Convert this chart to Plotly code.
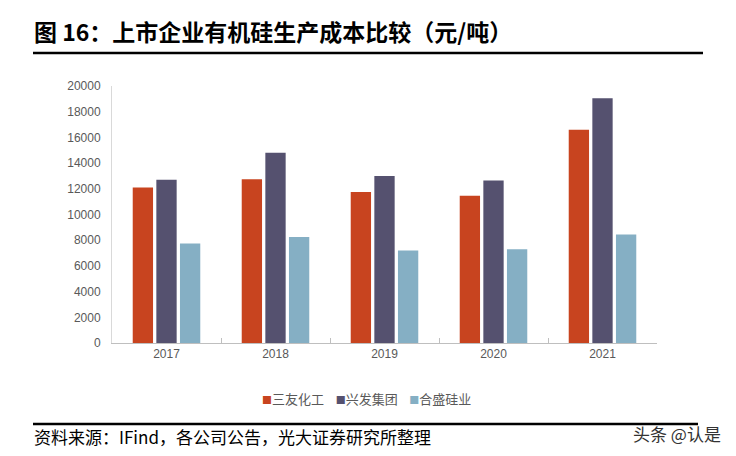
import plotly.graph_objects as go

years = ["2017", "2018", "2019", "2020", "2021"]
series_names = ["三友化工", "兴发集团", "合盛硅业"]
sanyou = [12100, 12750, 11750, 11450, 16600]
xingfa = [12700, 14800, 13000, 12650, 19050]
hesheng = [7750, 8250, 7200, 7300, 8450]
colors = ["#C8441F", "#55516F", "#85AFC4"]

W, H = 736, 456
L, R, T, B = 112, 657, 86, 343

def px(x):
    return (x - L) / (R - L)

def py(y):
    return (B - y) / (B - T)

fig = go.Figure()
for name, vals, c in zip(series_names, [sanyou, xingfa, hesheng], colors):
    fig.add_trace(go.Bar(x=years, y=vals, name=name, marker=dict(color=c, line=dict(width=0))))

cjk = "Noto Sans CJK SC"
legend_text = "&nbsp;&nbsp;&nbsp;&nbsp;".join(
    f"<span style='color:{c};font-size:10px'>■</span>{n}" for n, c in zip(series_names, colors)
)

fig.update_layout(
    width=W, height=H,
    margin=dict(l=L, r=W - R, t=T, b=H - B, pad=0, autoexpand=False),
    paper_bgcolor="white", plot_bgcolor="white",
    barmode="group", bargap=0.35, bargroupgap=0.14,
    font=dict(family="Liberation Sans, Arial, " + cjk, size=12, color="#595959"),
    showlegend=False,
    xaxis=dict(showline=True, linecolor="#BFBFBF", linewidth=1, ticks="inside",
               tickson="boundaries", ticklen=5, tickcolor="#BFBFBF",
               showgrid=False, tickfont=dict(size=12, color="#595959"), fixedrange=True),
    yaxis=dict(range=[0, 20000], dtick=2000, tickformat="d", showline=True, linecolor="#D9D9D9",
               linewidth=1, showgrid=False, zeroline=False, ticks="", ticklabelstandoff=8,
               tickfont=dict(size=12, color="#595959"), fixedrange=True),
    shapes=[
        dict(type="line", xref="paper", yref="paper", x0=px(33), x1=px(703), y0=py(53), y1=py(53),
             line=dict(color="black", width=2.5)),
        dict(type="line", xref="paper", yref="paper", x0=px(33), x1=px(698), y0=py(424), y1=py(424),
             line=dict(color="black", width=2.5)),
    ],
    annotations=[
        dict(text="<b>图 16：上市企业有机硅生产成本比较（元/吨）</b>", xref="paper", yref="paper",
             x=px(32), y=py(31), xanchor="left", yanchor="middle", showarrow=False,
             font=dict(family=cjk, size=23, color="black")),
        dict(text="资料来源：IFind，各公司公告，光大证券研究所整理", xref="paper", yref="paper",
             x=px(32), y=py(436), xanchor="left", yanchor="middle", showarrow=False,
             font=dict(family=cjk, size=17, color="black")),
        dict(text="头条 @认是", xref="paper", yref="paper",
             x=px(723), y=py(433), xanchor="right", yanchor="middle", showarrow=False,
             font=dict(family=cjk, size=17, color="#333333")),
        dict(text=legend_text, xref="paper", yref="paper",
             x=px(366), y=py(398), xanchor="center", yanchor="middle", showarrow=False,
             font=dict(family=cjk, size=13, color="#595959")),
    ],
)

fig.write_html("out.html", config={"displayModeBar": False},
               post_script="document.body.style.margin='0';")
